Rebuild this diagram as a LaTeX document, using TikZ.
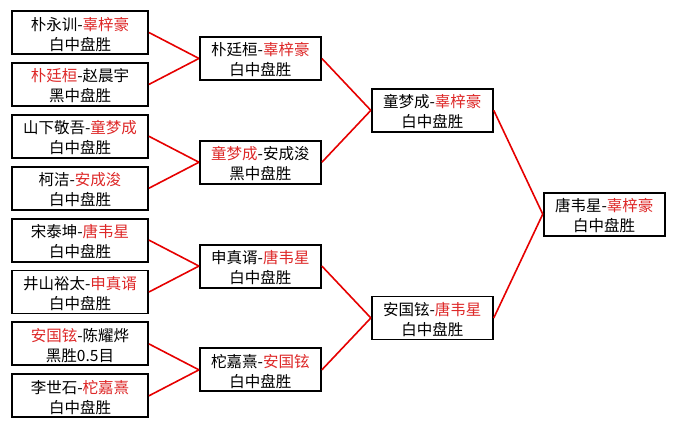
\documentclass[tikz,border=0pt]{standalone}
\usepackage{fontspec}
\newfontfamily\cjk{Noto Sans CJK SC}
\usepackage{xcolor}
\usetikzlibrary{positioning,calc}
\definecolor{winred}{RGB}{222,40,40}
\definecolor{linered}{RGB}{230,0,0}
\newcommand{\win}[1]{\textcolor{winred}{#1}}
\tikzset{
	game/.style={draw,line width=1.9pt,minimum height=43pt,minimum width=136pt,anchor=center,rectangle,fill=white,align=center,inner sep=0pt,text height=39pt,text depth=4pt,font=\cjk\fontsize{15.5pt}{20pt}\selectfont},
	winner/.style={game,minimum width=121pt},
	line/.style={draw=linered,line width=1.6pt},
}
\begin{document}
\begin{tikzpicture}[node distance=7pt]
				\fill[white] (0,0) rectangle (676pt,-429pt);
				\useasboundingbox (0,0) rectangle (676pt,-429pt);
				
				% First round
				\node[game] (g1) at (80pt,-32.5pt) {朴永训-\win{辜梓豪}\\白中盘胜};
				\node[game,below=of g1] (g2) {\win{朴廷桓}-赵晨宇\\黑中盘胜};
				\node[game,below=of g2] (g3) {山下敬吾-\win{童梦成}\\白中盘胜};
				\node[game,below=of g3] (g4) {柯洁-\win{安成浚}\\白中盘胜};
				\node[game,below=of g4] (g5) {宋泰坤-\win{唐韦星}\\白中盘胜};
				\node[game,below=of g5] (g6) {井山裕太-\win{申真谞}\\白中盘胜};
				\node[game,below=of g6] (g7) {\win{安国铉}-陈耀烨\\黑胜0.5目};
				\node[game,below=of g7] (g8) {李世石-\win{柁嘉熹}\\白中盘胜};
				
				% Quarter finals
				\coordinate (m12) at ($(g1.east)!0.5!(g2.east)$);
				\coordinate (m34) at ($(g3.east)!0.5!(g4.east)$);
				\coordinate (m56) at ($(g5.east)!0.5!(g6.east)$);
				\coordinate (m78) at ($(g7.east)!0.5!(g8.east)$);
				\node[winner,right=50pt of m12] (q1) {朴廷桓-\win{辜梓豪}\\白中盘胜};
				\node[winner,right=50pt of m34] (q2) {\win{童梦成}-安成浚\\黑中盘胜};
				\node[winner,right=50pt of m56] (q3) {申真谞-\win{唐韦星}\\白中盘胜};
				\node[winner,right=50pt of m78] (q4) {柁嘉熹-\win{安国铉}\\白中盘胜};
				
				% Semi finals
				\coordinate (n12) at ($(q1.east)!0.5!(q2.east)$);
				\coordinate (n34) at ($(q3.east)!0.5!(q4.east)$);
				\node[winner,right=49pt of n12] (s1) {童梦成-\win{辜梓豪}\\白中盘胜};
				\node[winner,right=49pt of n34] (s2) {安国铉-\win{唐韦星}\\白中盘胜};
				
				% Final
				\coordinate (f12) at ($(s1.east)!0.5!(s2.east)$);
				\node[winner,right=49pt of f12] (final) {唐韦星-\win{辜梓豪}\\白中盘胜};
				
				% Draw connections
				\draw[line] (g1.east) -- (q1.west);
				\draw[line] (g2.east) -- (q1.west);
				\draw[line] (g3.east) -- (q2.west);
				\draw[line] (g4.east) -- (q2.west);
				\draw[line] (g5.east) -- (q3.west);
				\draw[line] (g6.east) -- (q3.west);
				\draw[line] (g7.east) -- (q4.west);
				\draw[line] (g8.east) -- (q4.west);
				\draw[line] (q1.east) -- (s1.west);
				\draw[line] (q2.east) -- (s1.west);
				\draw[line] (q3.east) -- (s2.west);
				\draw[line] (q4.east) -- (s2.west);
				\draw[line] (s1.east) -- (final.west);
				\draw[line] (s2.east) -- (final.west);
			\end{tikzpicture}
\end{document}
